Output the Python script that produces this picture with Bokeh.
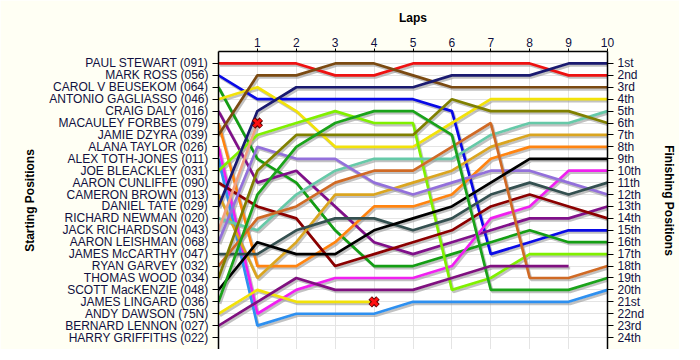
from bokeh.plotting import figure
from bokeh.models import Range1d, LinearAxis, FixedTicker
from bokeh.embed import file_html
from bokeh.resources import INLINE
import numpy as np

# ---- data ----
laps = [0, 1, 2, 3, 4, 5, 6, 7, 8, 9, 10]
lap_ticks = [1, 2, 3, 4, 5, 6, 7, 8, 9, 10]

start_names = [
    "PAUL STEWART (091)", "MARK ROSS (056)", "CAROL V BEUSEKOM (064)",
    "ANTONIO GAGLIASSO (046)", "CRAIG DALY (016)", "MACAULEY FORBES (079)",
    "JAMIE DZYRA (039)", "ALANA TAYLOR (026)", "ALEX TOTH-JONES (011)",
    "JOE BLEACKLEY (031)", "AARON CUNLIFFE (090)", "CAMERON BROWN (013)",
    "DANIEL TATE (029)", "RICHARD NEWMAN (020)", "JACK RICHARDSON (043)",
    "AARON LEISHMAN (068)", "JAMES McCARTHY (047)", "RYAN GARVEY (032)",
    "THOMAS WOOD (034)", "SCOTT MacKENZIE (048)", "JAMES LINGARD (036)",
    "ANDY DAWSON (75N)", "BERNARD LENNON (027)", "HARRY GRIFFITHS (022)",
]
finish_labels = [
    "1st", "2nd", "3rd", "4th", "5th", "6th", "7th", "8th", "9th", "10th",
    "11th", "12th", "13th", "14th", "15th", "16th", "17th", "18th", "19th",
    "20th", "21st", "22nd", "23rd", "24th",
]

# position after each lap (lap 0 = grid)
stewart = [1, 1, 1, 2, 2, 1, 1, 1, 1, 2, 2]
ross = [2, 4, 4, 4, 4, 4, 5, 17, 16, 15, 15]
beusekom = [3, 9, 11, 15, 18, 18, 17, 16, 15, 16, 16]
gagliasso = [4, 3, 5, 8, 8, 8, 6, 4, 4, 4, 4]
daly = [5, 11, 10, 13, 16, 17, 16, 15, 14, 14, 13]
forbes = [6, 18, 18, 16, 13, 13, 12, 9, 8, 8, 8]
dzyra = [7, 2, 2, 1, 1, 2, 3, 3, 3, 3, 3]
taylor = [8, 22, 20, 19, 19, 19, 18, 14, 13, 10, 10]
toth_jones = [9, 23, 22, 22, 22, 21, 21, 21, 21, 21, 20]
bleackley = [10, 7, 6, 5, 6, 6, 20, 19, 17, 17, 17]
cunliffe = [11, 13, 14, 18, 17, 16, 15, 13, 12, 13, 14]
brown = [12, 19, 16, 12, 12, 11, 10, 8, 7, 7, 7]
tate = [13, 5, 3, 3, 3, 3, 2, 2, 2, 1, 1]
newman = [14, 15, 12, 10, 9, 9, 9, 7, 6, 6, 5]
richardson = [15, 6]
leishman = [16, 8, 9, 9, 11, 12, 11, 10, 10, 11, 12]
mccarthy = [17, 17, 15, 14, 14, 15, 14, 12, 11, 12, 11]
garvey = [18, 14, 13, 11, 10, 10, 8, 6, 19, 19, 18]
wood = [19, 10, 7, 7, 7, 7, 4, 5, 5, 5, 6]
mackenzie = [20, 16, 17, 17, 15, 14, 13, 11, 9, 9, 9]
lingard = [21, 12, 8, 6, 5, 5, 7, 20, 20, 20, 19]
dawson = [22, 20, 21, 21, 21]
lennon = [23, 21, 19, 20, 20, 20, 19, 18, 18, 18]

retired_laps = [1, 4]
retired_pos = [6, 21]

series = [stewart, ross, beusekom, gagliasso, daly, forbes, dzyra, taylor,
          toth_jones, bleackley, cunliffe, brown, tate, newman, richardson,
          leishman, mccarthy, garvey, wood, mackenzie, lingard, dawson, lennon]
colors = ["#EE1111", "#0A0AE6", "#149E14", "#F2E20A", "#80108A", "#FF8410",
          "#7B4A12", "#F020F0", "#2E90F0", "#80F000", "#8B0000", "#DAA520",
          "#1A1A70", "#66C9A8", "#F2A080", "#9370DB", "#345050", "#D06A25",
          "#808000", "#000000", "#1AA31A", "#F2E20A", "#7F107F"]

p = figure(frame_width=389, frame_height=298, output_backend="svg", toolbar_location=None,
           x_range=Range1d(0, 10), y_range=Range1d(25, 0),
           x_axis_location="above", y_axis_location="left",
           min_border_left=218, min_border_right=10,
           min_border_top=51, min_border_bottom=0)
p.border_fill_color = "#FFFFF4"
p.background_fill_color = "#FFFFFF"
p.outline_line_color = None

p.xgrid.ticker = FixedTicker(ticks=laps)
p.ygrid.ticker = FixedTicker(ticks=list(range(1, 25)))
p.xgrid.grid_line_color = "#E4E4E4"
p.ygrid.grid_line_color = "#E4E4E4"


def style_axis(ax, label, standoff):
    ax.axis_label = label
    ax.axis_label_text_font = "Liberation Sans"
    ax.axis_label_text_font_style = "bold"
    ax.axis_label_text_font_size = "12px"
    ax.axis_label_text_color = "#000000"
    ax.axis_label_standoff = standoff
    ax.major_label_text_font = "Liberation Sans"
    ax.major_label_text_font_size = "12px"
    ax.major_label_text_color = "#101040"
    ax.major_tick_in = 0
    ax.minor_tick_out = 0
    ax.minor_tick_in = 0
    ax.axis_line_width = 1.5


# top axis
xa = p.xaxis[0]
xa.ticker = FixedTicker(ticks=lap_ticks)
style_axis(xa, "Laps", 10)
xa.major_tick_out = 3
xa.major_label_standoff = 2

# left axis
ya = p.yaxis[0]
ya.ticker = FixedTicker(ticks=list(range(1, 25)))
ya.major_label_overrides = {i + 1: n for i, n in enumerate(start_names)}
style_axis(ya, "Starting Positions", 9)
ya.major_tick_out = 6
ya.major_label_standoff = 4

# right axis
ra = LinearAxis(ticker=FixedTicker(ticks=list(range(1, 25))))
ra.major_label_overrides = {i + 1: n for i, n in enumerate(finish_labels)}
style_axis(ra, "Finishing Positions", 15)
ra.major_tick_out = 6
ra.major_label_standoff = 4
p.add_layout(ra, "right")

# shadows
for s in series:
    xs = np.array(laps[:len(s)], dtype=float) + 0.04
    ys = np.array(s, dtype=float) + 0.17
    p.line(xs, ys, line_color="#9A9A9A", line_width=2.7, line_alpha=0.6)

for s, c in zip(series, colors):
    p.line(laps[:len(s)], s, line_color=c, line_width=2.7)

p.scatter(retired_laps, retired_pos, marker="x", size=11, line_color="#5A0000", line_width=5)
p.scatter(retired_laps, retired_pos, marker="x", size=10, line_color="#FF1010", line_width=3)

open("out.html", "w").write(file_html(p, INLINE))
